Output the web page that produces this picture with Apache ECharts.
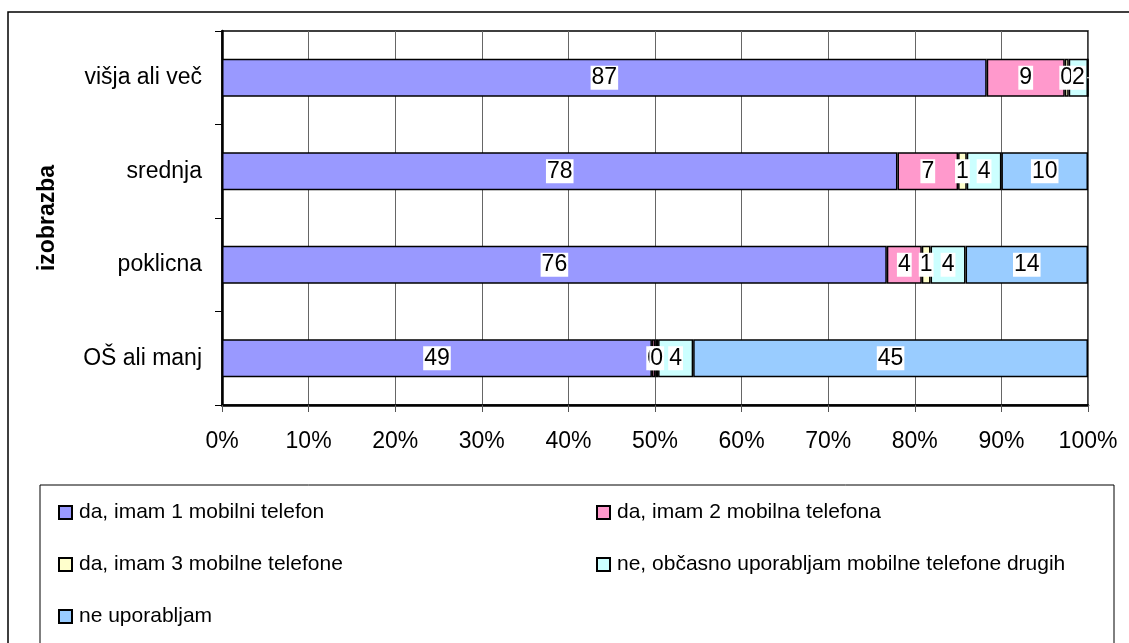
<!DOCTYPE html>
<html>
<head>
<meta charset="utf-8">
<script src="https://cdn.jsdelivr.net/npm/echarts@6/dist/echarts.min.js"></script>
<style>
  html, body { margin: 0; padding: 0; background: #fff; }
  #chart { width: 1129px; height: 643px; }
</style>
</head>
<body>
<div id="chart"></div>
<script>
// kategorije (od spodaj navzgor)
const categories = ['OŠ ali manj', 'poklicna', 'srednja', 'višja ali več'];
const seriesNames = [
    'da, imam 1 mobilni telefon',
    'da, imam 2 mobilna telefona',
    'da, imam 3 mobilne telefone',
    'ne, občasno uporabljam mobilne telefone drugih',
    'ne uporabljam'
];
const seriesColors = ['#9999FF', '#FF99CC', '#FFFFCC', '#CCFFFF', '#99CCFF'];

// vrednosti po kategorijah (isti vrstni red kot categories)
const enMobilni = [49, 76, 78, 87.2];
const dvaMobilna = [0.4, 4, 7, 8.9];
const triMobilni = [0.3, 1, 1, 0.45];
const obcasno = [4, 4, 4, 2.2];
const neUporabljam = [45, 14, 10, 0];
const xTicks = [0, 10, 20, 30, 40, 50, 60, 70, 80, 90, 100];

const allValues = [enMobilni, dvaMobilna, triMobilni, obcasno, neUporabljam];

// vsote vrstic za 100% prikaz
const rowSums = categories.map((c, i) => allValues.reduce((s, arr) => s + arr[i], 0));

const FONT = 'Liberation Sans, Arial, sans-serif';

const chart = echarts.init(document.getElementById('chart'));

const series = allValues.map((vals, si) => ({
    name: seriesNames[si],
    type: 'bar',
    stack: 'skupaj',
    barWidth: 38,
    data: vals.map((v, i) => ({ value: v / rowSums[i] * 100, raw: v })),
    itemStyle: { color: seriesColors[si], borderColor: '#000', borderWidth: 1.5 },
    label: {
        show: true,
        position: 'inside',
        color: '#000',
        fontFamily: FONT,
        fontSize: 23,
        backgroundColor: '#fff',
        padding: [1, 1, 0, 1],
        formatter: p => (p.data.raw === 0 ? '' : String(Math.round(p.data.raw)))
    },
    emphasis: { disabled: true }
}));

const legendCommon = {
    orient: 'vertical',
    icon: 'rect',
    padding: 0,
    itemWidth: 13,
    itemHeight: 13,
    itemGap: 31,
    selectedMode: false,
    itemStyle: { borderColor: '#000', borderWidth: 2 },
    textStyle: { fontFamily: FONT, fontSize: 21, color: '#000', padding: [0, 0, 0, 2] }
};

chart.setOption({
    animation: false,
    grid: {
        left: 222, right: 41, top: 31, bottom: 238,
        show: true, borderColor: '#000', borderWidth: 1.5, backgroundColor: 'transparent'
    },
    graphic: [
        { type: 'rect', shape: { x: 8, y: 12, width: 1300, height: 800 }, style: { fill: 'none', stroke: '#000', lineWidth: 1.5 }, silent: true },
        { type: 'rect', shape: { x: 40, y: 485, width: 1074, height: 300 }, style: { fill: 'none', stroke: '#000', lineWidth: 1 }, silent: true }
    ],
    legend: [
        Object.assign({}, legendCommon, { left: 58, top: 502, data: [seriesNames[0], seriesNames[2], seriesNames[4]] }),
        Object.assign({}, legendCommon, { left: 596, top: 502, data: [seriesNames[1], seriesNames[3]] })
    ],
    xAxis: {
        type: 'value',
        min: xTicks[0],
        max: xTicks[xTicks.length - 1],
        interval: 10,
        axisLine: { show: true, lineStyle: { color: '#000', width: 2.5 } },
        axisTick: { show: true, length: 7, lineStyle: { color: '#555', width: 1 } },
        axisLabel: { margin: 25, color: '#000', fontFamily: FONT, fontSize: 23, formatter: '{value}%' },
        splitLine: { show: true, lineStyle: { color: '#666', width: 1 } }
    },
    yAxis: {
        type: 'category',
        data: categories,
        name: 'izobrazba',
        nameLocation: 'middle',
        nameRotate: 90,
        nameGap: 163,
        nameTextStyle: { fontFamily: FONT, fontSize: 23, fontWeight: 'bold', color: '#000' },
        axisLine: { show: true, lineStyle: { color: '#000', width: 2.5 } },
        axisTick: { show: true, length: 7, lineStyle: { color: '#000', width: 1 } },
        axisLabel: { margin: 20, color: '#000', fontFamily: FONT, fontSize: 23 },
        splitLine: { show: false }
    },
    series: series
});
</script>
</body>
</html>
